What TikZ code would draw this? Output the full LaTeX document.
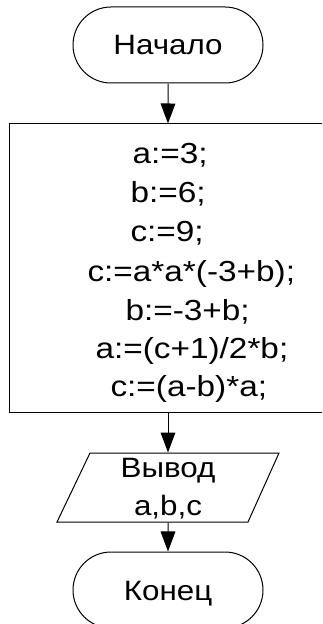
\documentclass[tikz,border=0pt]{standalone}
\usepackage{graphicx}
\usepackage{fontspec}
\setmainfont{Liberation Sans}
\usetikzlibrary{arrows.meta,shapes.misc}
\newcommand{\hs}[1]{\scalebox{1.12}[1]{#1}}
\newcommand{\hc}[1]{\scalebox{1.15}[1]{#1}}
\begin{document}
\begin{tikzpicture}[x=0.75pt,y=-0.75pt,
  line width=0.75pt,
  txt/.style={inner sep=0pt, font=\fontsize{21}{25}\selectfont},
  term/.style={draw, rounded rectangle, minimum width=142.5pt, minimum height=57pt, inner sep=0pt, text height=15pt, text depth=0pt, font=\fontsize{21}{25}\selectfont},
  code/.style={inner sep=0pt, anchor=base west, font=\fontsize{21.75}{25}\selectfont},
  ctr/.style={txt, anchor=base},
  arr/.style={-{Triangle[length=15pt,width=11pt]}},
]
\useasboundingbox (0,0) rectangle (322,624);
\clip (0,0) rectangle (322,624);
\node[term] (start) at (168,45) {\hs{Начало}};
\node[draw, minimum width=238.5pt, minimum height=216pt, inner sep=0pt] (box) at (168,268) {};
\node[code] (l1) at (132,163) {\hc{a:=3;}};
\node[code] (l2) at (130,202) {\hc{b:=6;}};
\node[code] (l3) at (130,241) {\hc{c:=9;}};
\node[code] (l4) at (87,281) {\hc{c:=a*a*(-3+b);}};
\node[code] (l5) at (125,320) {\hc{b:=-3+b;}};
\node[code] (l6) at (95,358) {\hc{a:=(c+1)/2*b;}};
\node[code] (l7) at (110,396) {\hc{c:=(a-b)*a;}};
\node[minimum width=142pt, minimum height=51.75pt, inner sep=0pt] (out) at (168,487.5) {};
\draw (90,453) -- (279,453) -- (248,522) -- (57,522) -- cycle;
\node[ctr] (o1) at (168,477) {\hs{Вывод}};
\node[ctr] (o2) at (168,515) {\hs{a,b,c}};
\node[term] (end) at (168,590) {\hs{Конец}};
\draw[arr] (start) -- (box);
\draw[arr] (box) -- (out);
\draw[arr] (out) -- (end);
\end{tikzpicture}
\end{document}
